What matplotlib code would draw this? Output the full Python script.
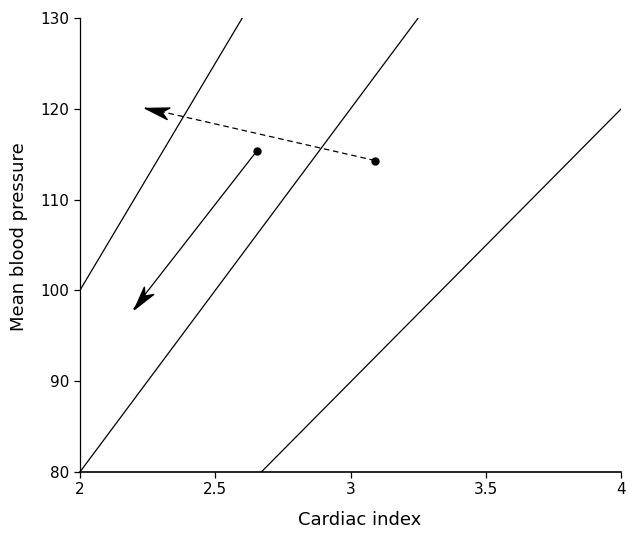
#
# Imports
#
import numpy as np
import matplotlib
matplotlib.use("Agg")
from matplotlib import pyplot as plt
from matplotlib.path import Path
from matplotlib.markers import MarkerStyle

#
# Data
#
# iso-resistance lines (x = cardiac index, y = mean blood pressure)
line_x = [[2.0, 2.6], [2.0, 3.25], [2.67, 4.0]]
line_y = [[100, 130], [80, 130], [80, 120]]

# start points and arrow tips
solid_start = (2.655, 115.4)
solid_end = (2.2, 98.0)
dashed_start = (3.09, 114.3)
dashed_end = (2.24, 120.1)

xticks = [2, 2.5, 3, 3.5, 4]
xticklabels = ["2", "2.5", "3", "3.5", "4"]
yticks = [80, 90, 100, 110, 120, 130]

# barbed arrow head, tip at origin pointing along +x
head_path = Path([(0, 0), (-1, 0.25), (-0.72, 0), (-1, -0.25), (0, 0)],
                 [Path.MOVETO, Path.LINETO, Path.LINETO, Path.LINETO, Path.CLOSEPOLY])


#
# Private functions
#
def arrow_head(ax, start, end):
    p0 = ax.transData.transform(start)
    p1 = ax.transData.transform(end)
    ang = np.degrees(np.arctan2(p1[1] - p0[1], p1[0] - p0[0]))
    m = MarkerStyle(head_path).rotated(deg=ang)
    ax.plot([end[0]], [end[1]], marker=m, ms=34, color='black', ls='none')


#
# main
#
if __name__ == "__main__":
    fig = plt.figure(figsize=(6.34, 5.33), dpi=100)
    ax = fig.add_axes([0.126, 0.1144, 0.854, 0.852])
    ax.set_xlim(2, 4)
    ax.set_ylim(80, 130)

    for xs, ys in zip(line_x, line_y):
        ax.plot(xs, ys, color='black', lw=0.9)

    # solid arrow
    ax.plot([solid_start[0], solid_end[0]], [solid_start[1], solid_end[1]],
            color='black', lw=0.9)
    arrow_head(ax, solid_start, solid_end)
    # dashed arrow
    ax.plot([dashed_start[0], dashed_end[0]], [dashed_start[1], dashed_end[1]],
            color='black', lw=0.9, ls=(0, (4.5, 3)))
    arrow_head(ax, dashed_start, dashed_end)

    ax.plot([solid_start[0], dashed_start[0]], [solid_start[1], dashed_start[1]],
            'o', color='black', ms=5, ls='none')

    ax.set_xticks(xticks)
    ax.set_xticklabels(xticklabels)
    ax.set_yticks(yticks)
    ax.tick_params(direction='out', length=4, width=0.9, labelsize=11)
    ax.spines['top'].set_visible(False)
    ax.spines['right'].set_visible(False)
    ax.spines['left'].set_linewidth(0.9)
    ax.spines['bottom'].set_linewidth(1.2)
    ax.set_xlabel("Cardiac index", fontsize=13)
    ax.set_ylabel("Mean blood pressure", fontsize=13)
    ax.xaxis.set_label_coords(0.517, -0.085)
    ax.yaxis.set_label_coords(-0.095, 0.518)

    fig.savefig("out.png", dpi=100)
